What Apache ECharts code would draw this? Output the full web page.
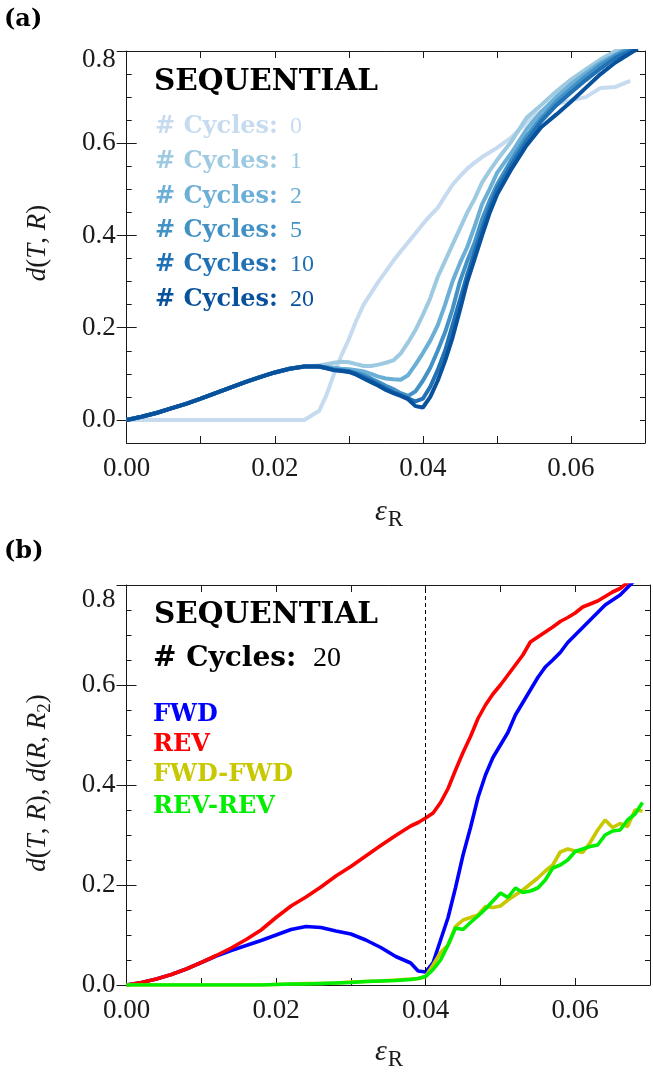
<!DOCTYPE html>
<html>
<head>
<meta charset="utf-8">
<script src="https://cdn.jsdelivr.net/npm/echarts@6/dist/echarts.min.js"></script>
<style>
html, body { margin: 0; padding: 0; background: #fff; }
#main { width: 653px; height: 1074px; }
</style>
</head>
<body>
<div id="main"></div>
<script>
// ---- panel (a): d(T,R) vs strain, one line per number of cycles ----
var epsA = [0, 0.002, 0.004, 0.006, 0.008, 0.010, 0.012, 0.014, 0.016, 0.018, 0.020, 0.022, 0.024, 0.026,
    0.027, 0.028, 0.029, 0.030, 0.031, 0.032, 0.033, 0.034, 0.035, 0.036, 0.037, 0.038, 0.039, 0.040,
    0.041, 0.042, 0.043, 0.044, 0.045, 0.046, 0.047, 0.048, 0.049, 0.050,
    0.052, 0.054, 0.056, 0.058, 0.060, 0.062, 0.064, 0.066, 0.068, 0.069];

var cycles0 = [0, 0, 0, 0, 0, 0, 0, 0, 0, 0, 0, 0, 0, 0.02,
    0.055, 0.10, 0.14, 0.175, 0.215, 0.25, 0.275, 0.30, 0.322, 0.345, 0.365, 0.385, 0.405, 0.425,
    0.443, 0.46, 0.485, 0.51, 0.528, 0.545, 0.558, 0.57, 0.58, 0.59,
    0.613, 0.645, 0.67, 0.685, 0.693, 0.70, 0.72, 0.722, 0.735, null];
var cycles1 = [0, 0.007, 0.015, 0.025, 0.035, 0.046, 0.058, 0.070, 0.082, 0.093, 0.103, 0.111, 0.116, 0.118,
    0.121, 0.124, 0.126, 0.125, 0.121, 0.117, 0.117, 0.12, 0.124, 0.129, 0.144, 0.168, 0.195, 0.228,
    0.264, 0.31, 0.345, 0.38, 0.415, 0.45, 0.48, 0.515, 0.54, 0.563,
    0.605, 0.655, 0.683, 0.712, 0.738, 0.76, 0.782, 0.80, 0.815, 0.825];
var cycles2 = [0, 0.007, 0.015, 0.025, 0.035, 0.046, 0.058, 0.070, 0.082, 0.093, 0.103, 0.111, 0.116, 0.116,
    0.115, 0.113, 0.111, 0.11, 0.108, 0.105, 0.10, 0.094, 0.09, 0.088, 0.087, 0.097, 0.12, 0.145,
    0.172, 0.205, 0.25, 0.30, 0.34, 0.375, 0.42, 0.468, 0.50, 0.535,
    0.58, 0.63, 0.668, 0.70, 0.728, 0.752, 0.775, 0.792, 0.808, 0.818];
var cycles5 = [0, 0.007, 0.015, 0.025, 0.035, 0.046, 0.058, 0.070, 0.082, 0.093, 0.103, 0.111, 0.116, 0.116,
    0.113, 0.11, 0.108, 0.106, 0.102, 0.097, 0.09, 0.082, 0.074, 0.067, 0.058, 0.052, 0.062, 0.085,
    0.113, 0.15, 0.19, 0.24, 0.30, 0.345, 0.385, 0.435, 0.475, 0.51,
    0.565, 0.615, 0.655, 0.69, 0.718, 0.745, 0.77, 0.79, 0.805, 0.815];
var cycles10 = [0, 0.007, 0.015, 0.025, 0.035, 0.046, 0.058, 0.070, 0.082, 0.093, 0.103, 0.111, 0.116, 0.116,
    0.112, 0.108, 0.107, 0.105, 0.10, 0.093, 0.086, 0.077, 0.068, 0.06, 0.054, 0.047, 0.04, 0.046,
    0.072, 0.108, 0.15, 0.205, 0.26, 0.315, 0.365, 0.415, 0.46, 0.50,
    0.555, 0.605, 0.648, 0.682, 0.71, 0.737, 0.762, 0.785, 0.80, 0.81];
var cycles20 = [0, 0.007, 0.015, 0.025, 0.035, 0.046, 0.058, 0.070, 0.082, 0.093, 0.103, 0.111, 0.116, 0.116,
    0.112, 0.108, 0.106, 0.104, 0.098, 0.09, 0.082, 0.074, 0.065, 0.058, 0.052, 0.045, 0.03, 0.027,
    0.05, 0.085, 0.128, 0.178, 0.238, 0.30, 0.35, 0.40, 0.448, 0.488,
    0.545, 0.595, 0.635, 0.662, 0.69, 0.72, 0.75, 0.775, 0.795, 0.805];

var cycleNames = ['0', '1', '2', '5', '10', '20'];
var cycleColors = ['#c6dbef', '#9ecae1', '#6baed6', '#4292c6', '#2171b5', '#08519c'];

// ---- panel (b): 20 cycles, forward / reverse ----
var epsB = [0, 0.002, 0.004, 0.006, 0.008, 0.010, 0.012, 0.014, 0.016, 0.018, 0.020, 0.022, 0.024, 0.026,
    0.028, 0.030, 0.032, 0.034, 0.036, 0.038,
    0.039, 0.040, 0.041, 0.042, 0.043, 0.044, 0.045, 0.046, 0.047, 0.048, 0.049, 0.050,
    0.051, 0.052, 0.053, 0.054, 0.055, 0.056, 0.057, 0.058, 0.059, 0.060,
    0.061, 0.062, 0.063, 0.064, 0.065, 0.066, 0.067, 0.068, 0.069];

var fwd = [0, 0.005, 0.012, 0.021, 0.032, 0.045, 0.058, 0.069, 0.079, 0.089, 0.10, 0.111, 0.117, 0.115,
    0.108, 0.102, 0.09, 0.075, 0.057, 0.044,
    0.028, 0.026, 0.045, 0.09, 0.135, 0.195, 0.26, 0.315, 0.375, 0.42, 0.455, 0.48,
    0.505, 0.54, 0.565, 0.59, 0.615, 0.636, 0.65, 0.665, 0.685, 0.70,
    0.715, 0.73, 0.745, 0.76, 0.77, 0.78, 0.795, 0.81, 0.82];
var rev = [0, 0.005, 0.012, 0.021, 0.032, 0.045, 0.059, 0.074, 0.091, 0.11, 0.135, 0.158, 0.176, 0.196,
    0.218, 0.237, 0.258, 0.279, 0.299, 0.318,
    0.325, 0.334, 0.344, 0.365, 0.393, 0.43, 0.465, 0.497, 0.533, 0.56, 0.582, 0.60,
    0.62, 0.64, 0.66, 0.686, 0.696, 0.706, 0.716, 0.727, 0.735, 0.744,
    0.756, 0.762, 0.768, 0.777, 0.786, 0.793, 0.805, 0.815, 0.825];
var fwdFwd = [0, 0, 0, 0, 0, 0, 0, 0, 0, 0, 0.001, 0.002, 0.003, 0.003,
    0.004, 0.006, 0.007, 0.008, 0.01, 0.012,
    0.013, 0.017, 0.04, 0.065, 0.08, 0.117, 0.13, 0.135, 0.14, 0.157, 0.155, 0.158,
    0.17, 0.18, 0.19, 0.202, 0.214, 0.228, 0.24, 0.266, 0.272, 0.268,
    0.265, 0.285, 0.31, 0.33, 0.315, 0.323, 0.317, 0.35, 0.348];
var revRev = [0, 0, 0, 0, 0, 0, 0, 0, 0, 0, 0.001, 0.002, 0.002, 0.003,
    0.004, 0.005, 0.007, 0.008, 0.009, 0.011,
    0.013, 0.017, 0.031, 0.05, 0.08, 0.114, 0.111, 0.125, 0.138, 0.152, 0.168, 0.184,
    0.175, 0.194, 0.185, 0.188, 0.194, 0.21, 0.234, 0.24, 0.25, 0.267,
    0.272, 0.277, 0.28, 0.30, 0.308, 0.31, 0.33, 0.342, 0.365];

var dirNames = ['FWD', 'REV', 'FWD-FWD', 'REV-REV'];
var dirColors = ['#0000ff', '#ff0000', '#c8c800', '#00ee00'];

// tick values
var xTicks = [0, 0.02, 0.04, 0.06];
var yTicks = [0, 0.2, 0.4, 0.6, 0.8];

var chart = echarts.init(document.getElementById('main'));

var serif = '"Liberation Serif", "DejaVu Serif", serif';
var heavy = '"DejaVu Serif", serif';
var ink = '#1a1a1a';

function pts(xs, ys) {
    var out = [];
    for (var i = 0; i < xs.length; i++) {
        if (ys[i] !== null) out.push([xs[i], ys[i]]);
    }
    return out;
}

function isTick(list, v) {
    for (var i = 0; i < list.length; i++) {
        if (Math.abs(list[i] - v) < 1e-6) return true;
    }
    return false;
}

function xAxesFor(g) {
    var base = {
        gridIndex: g, type: 'value', min: 0, max: 0.07, interval: 0.01,
        axisLine: { show: true, onZero: false, lineStyle: { color: ink, width: 1 } },
        axisTick: { show: true, inside: true, length: 7, lineStyle: { color: ink, width: 1 } },
        splitLine: { show: false }
    };
    var bottom = Object.assign({}, base, {
        position: 'bottom',
        axisLabel: {
            fontFamily: serif, fontSize: 27, color: ink, margin: 12,
            formatter: function (v) { return isTick(xTicks, v) ? v.toFixed(2) : ''; }
        }
    });
    var top = Object.assign({}, base, { position: 'top', axisLabel: { show: false } });
    return [bottom, top];
}

function yAxesFor(g, ymin, topShift) {
    var line = { show: true, onZero: false, lineStyle: { color: ink, width: 1 } };
    var minor = function (pos) {
        return {
            gridIndex: g, type: 'value', min: ymin, max: 0.8, interval: 0.05, position: pos,
            axisLine: line,
            axisTick: { show: true, inside: true, length: 5, lineStyle: { color: ink, width: 1 } },
            axisLabel: { show: false },
            splitLine: { show: false }
        };
    };
    var major = function (pos, labels) {
        return {
            gridIndex: g, type: 'value', min: ymin, max: 0.8, position: pos,
            axisLine: { show: false },
            axisTick: { show: true, inside: true, length: 10, customValues: yTicks, lineStyle: { color: ink, width: 1 } },
            axisLabel: labels ? {
                customValues: yTicks, margin: 11,
                fontFamily: serif, fontSize: 27, color: ink,
                formatter: function (v) {
                    return v > 0.79 ? '{t|' + v.toFixed(1) + '}' : v.toFixed(1);
                },
                rich: { t: { fontFamily: serif, fontSize: 27, color: ink, padding: [topShift, 0, 0, 0] } }
            } : { show: false },
            splitLine: { show: false }
        };
    };
    return [minor('left'), major('left', true), minor('right'), major('right', false)];
}

var series = [];
var curvesA = [cycles0, cycles1, cycles2, cycles5, cycles10, cycles20];
curvesA.forEach(function (ys, i) {
    series.push({
        name: '# Cycles: ' + cycleNames[i], type: 'line', xAxisIndex: 0, yAxisIndex: 0,
        data: pts(epsA, ys), showSymbol: false, symbol: 'none',
        lineStyle: { width: 4, color: cycleColors[i] }, itemStyle: { color: cycleColors[i] },
        z: 2 + i
    });
});
var curvesB = [fwd, rev, fwdFwd, revRev];
curvesB.forEach(function (ys, i) {
    var s = {
        name: dirNames[i], type: 'line', xAxisIndex: 2, yAxisIndex: 4,
        data: pts(epsB, ys), showSymbol: false, symbol: 'none',
        lineStyle: { width: 3.6, color: dirColors[i] }, itemStyle: { color: dirColors[i] },
        z: 3 + i
    };
    if (i === 0) {
        s.markLine = {
            silent: true, symbol: ['none', 'none'], animation: false,
            label: { show: false },
            lineStyle: { color: '#000', width: 1, type: [4, 3] },
            data: [{ xAxis: 0.04 }]
        };
    }
    series.push(s);
});

function txt(x, y, text, size, color, weight, extra) {
    return {
        type: 'text', x: x, y: y, z: 100,
        style: Object.assign({
            text: text, fontSize: size, fontFamily: weight === 'bold' ? heavy : serif,
            fontWeight: weight || 'normal', fill: color, align: 'left', verticalAlign: 'middle'
        }, extra || {})
    };
}

var graphics = [];
graphics.push(txt(4, 20, '(a)', 24, '#000', 'bold'));
graphics.push(txt(4, 552, '(b)', 24, '#000', 'bold'));
graphics.push(txt(154, 82, 'SEQUENTIAL', 29.5, '#000', 'bold'));
graphics.push(txt(154, 615, 'SEQUENTIAL', 29.5, '#000', 'bold'));

var legendYA = [127, 161.5, 196.5, 230.5, 265, 300];
cycleNames.forEach(function (n, i) {
    graphics.push(txt(155, legendYA[i], '# Cycles:', 24, cycleColors[i], 'bold'));
    graphics.push(txt(290, legendYA[i], n, 24, cycleColors[i]));
});
graphics.push(txt(153, 659, '# Cycles:', 28, '#000', 'bold'));
graphics.push(txt(313, 659, '20', 28, '#000'));

var legendYB = [714.5, 744.5, 774.5, 807];
dirNames.forEach(function (n, i) {
    graphics.push(txt(153, legendYB[i], n, 24, dirColors[i], 'bold'));
});

var it = { fontFamily: serif, fontStyle: 'italic', fontSize: 27, fill: ink };
var rm = { fontFamily: serif, fontSize: 27, fill: ink };
var sub = { fontFamily: serif, fontSize: 19, fill: ink, padding: [14, 0, 0, 0] };

function ylab(x, y, text) {
    return {
        type: 'text', x: x, y: y, rotation: Math.PI / 2, z: 100,
        style: { text: text, align: 'center', verticalAlign: 'middle', rich: { i: it, r: rm, s: sub } }
    };
}
graphics.push(ylab(38, 243, '{i|d}{r|(}{i|T}{r|, }{i|R}{r|)}'));
graphics.push(ylab(38, 783, '{i|d}{r|(}{i|T}{r|, }{i|R}{r|), }{i|d}{r|(}{i|R}{r|, }{i|R}{s|2}{r|)}'));

function xlab(x, y) {
    return {
        type: 'text', x: x, y: y, z: 100,
        style: {
            text: '{e|ε}{s|R}', align: 'center', verticalAlign: 'middle',
            rich: {
                e: { fontFamily: serif, fontStyle: 'italic', fontSize: 30, fill: ink },
                s: { fontFamily: serif, fontSize: 23, fill: ink, padding: [16, 0, 0, 1] }
            }
        }
    };
}
graphics.push(xlab(389, 512));
graphics.push(xlab(389, 1052));

var option = {
    animation: false,
    backgroundColor: '#fff',
    grid: [
        { left: 126.7, top: 51, width: 518.3, height: 392 },
        { left: 126.5, top: 585, width: 530.6, height: 400 }
    ],
    xAxis: xAxesFor(0).concat(xAxesFor(1)),
    yAxis: yAxesFor(0, -0.05, 18).concat(yAxesFor(1, 0, 30)),
    series: series,
    graphic: graphics
};

chart.setOption(option);
</script>
</body>
</html>
